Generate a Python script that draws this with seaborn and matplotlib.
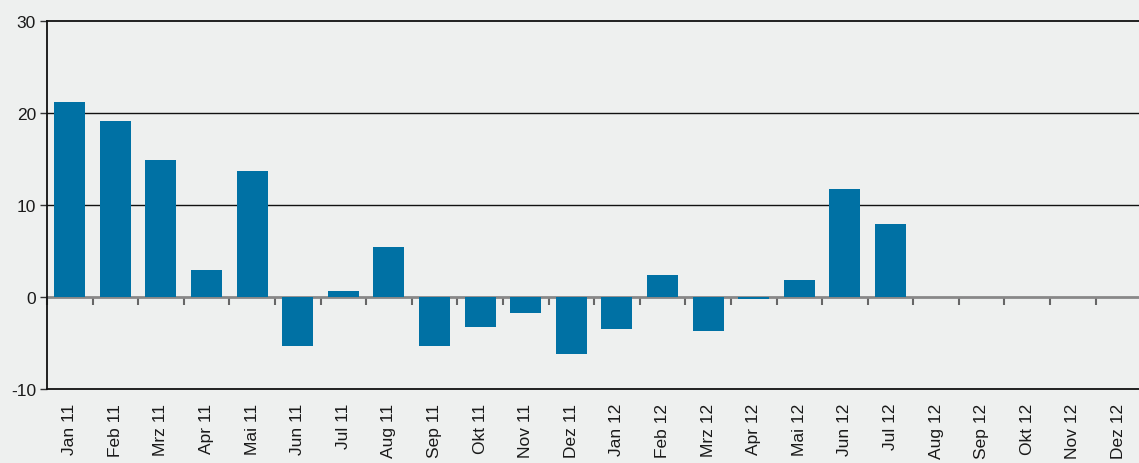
import numpy as np
import pandas as pd
import matplotlib
matplotlib.use("Agg")
import matplotlib.pyplot as plt
import seaborn as sns

months = ["Jan 11", "Feb 11", "Mrz 11", "Apr 11", "Mai 11", "Jun 11", "Jul 11", "Aug 11",
          "Sep 11", "Okt 11", "Nov 11", "Dez 11", "Jan 12", "Feb 12", "Mrz 12", "Apr 12",
          "Mai 12", "Jun 12", "Jul 12", "Aug 12", "Sep 12", "Okt 12", "Nov 12", "Dez 12"]
values = [21.2, 19.1, 14.9, 2.9, 13.7, -5.3, 0.65, 5.4, -5.3, -3.3, -1.7, -6.2,
          -3.5, 2.4, -3.7, -0.2, 1.85, 11.7, 7.9, np.nan, np.nan, np.nan, np.nan, np.nan]
yticks = [-10, 0, 10, 20, 30]

bg = "#eef0ef"
bar_color = "#0071a4"

sns.set_theme(style="white")
plt.rcParams["font.family"] = ["Liberation Sans", "DejaVu Sans"]

df = pd.DataFrame({"month": months, "value": values})

fig = plt.figure(figsize=(11.39, 4.64), dpi=100, facecolor=bg)
ax = fig.add_axes([47 / 1139, 74 / 464, 1 - 47 / 1139 + 0.002, (390 - 22) / 464])
ax.set_facecolor(bg)

sns.barplot(data=df, x="month", y="value", order=months, color=bar_color,
            saturation=1, width=0.68, ax=ax, zorder=3, linewidth=0, edgecolor="none")

ax.set_ylim(-10, 30)
ax.set_xlim(-0.5, len(months) - 0.5)
ax.set_yticks(yticks)
ax.set_yticklabels([str(t) for t in yticks], fontsize=12.5, color="#1a1a1a")
ax.tick_params(axis="y", direction="out", length=5, width=1, color="#333333", pad=3, left=True)
ax.set_xticks(range(len(months)))
ax.set_xticklabels(months, rotation=90, fontsize=12.5, color="#1a1a1a")
ax.tick_params(axis="x", length=0, pad=10)
ax.set_xlabel("")
ax.set_ylabel("")

for t in [10, 20]:
    ax.axhline(t, color="#111111", linewidth=1, zorder=1)

for s in ["right"]:
    ax.spines[s].set_visible(False)
for s in ["top", "left", "bottom"]:
    ax.spines[s].set_color("#111111")
    ax.spines[s].set_linewidth(1.3)

# zero line with boundary ticks
sec = ax.secondary_xaxis(0.25)
sec.set_xticks(np.arange(len(months) + 1) - 0.5)
sec.set_xticklabels([])
sec.tick_params(axis="x", direction="out", length=6, width=1.5, color="#666666")
sec.spines["bottom"].set_color("#888888")
sec.spines["bottom"].set_linewidth(2)
sec.spines["bottom"].set_zorder(4)

fig.savefig("out.png", dpi=100, facecolor=bg)
